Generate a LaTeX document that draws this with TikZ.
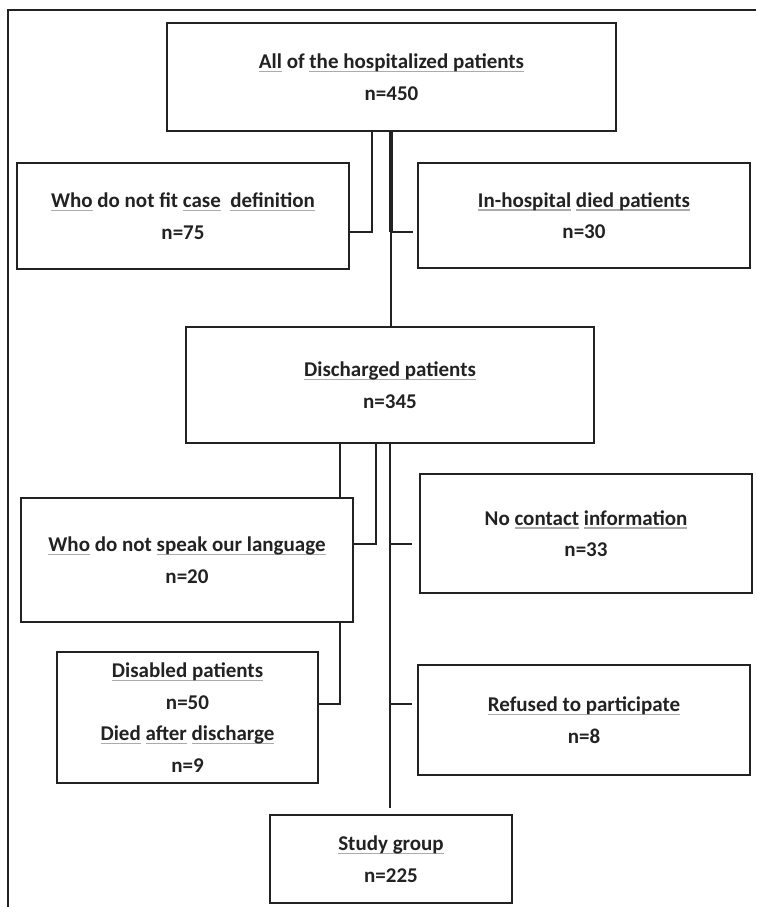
\documentclass[tikz,border=0pt]{standalone}
\usepackage{fontspec}
\setmainfont{Carlito}
\usetikzlibrary{calc}
\definecolor{ink}{HTML}{222222}
\definecolor{ulgray}{HTML}{ABABAB}
\newcommand\gul[1]{\setbox0\hbox{#1}\leavevmode\rlap{\textcolor{ulgray}{\rule[-3.6pt]{\wd0}{1.5pt}}}\box0\relax}
\begin{document}
\begin{tikzpicture}[x=1pt,y=-1pt,
  box/.style={draw=ink, line width=1.8pt, rectangle, align=center,
    font=\bfseries\fontsize{21}{31.5}\selectfont, text=ink, inner sep=0pt},
  conn/.style={draw=ink, line width=1.4pt},
  thickconn/.style={draw=ink, line width=3.4pt},
  frame/.style={draw=ink, line width=1.5pt}]
\useasboundingbox (0,0) rectangle (756,907);
\draw[frame] (8,907) -- (8,10) -- (756,10);

\node[box, minimum width=449pt, minimum height=108pt] (top) at (391.5,77)
  {\gul{All} of \gul{the hospitalized patients}\\n=450};
\node[box, minimum width=332pt, minimum height=106pt] (left1) at (183,216)
  {\gul{Who} do not fit \gul{case}\ \ \gul{definition}\\n=75};
\node[box, minimum width=332pt, minimum height=105pt] (right1) at (584,215.5)
  {\gul{In-hospital} \gul{died patients}\\n=30};
\node[box, minimum width=408pt, minimum height=116pt] (disc) at (390,385)
  {\gul{Discharged patients}\\n=345};
\node[box, minimum width=332pt, minimum height=124pt] (left2) at (187,560)
  {\gul{Who} do not \gul{speak our language}\\n=20};
\node[box, minimum width=332pt, minimum height=119pt] (right2) at (586,533.5)
  {No \gul{contact} \gul{information}\\n=33};
\node[box, minimum width=261pt, minimum height=131pt] (dis) at (187.5,717.5)
  {\gul{Disabled patients}\\n=50\\\gul{Died} \gul{after} \gul{discharge}\\n=9};
\node[box, minimum width=332pt, minimum height=110pt] (right3) at (584,720)
  {\gul{Refused to participate}\\n=8};
\node[box, minimum width=242pt, minimum height=88pt] (study) at (391,859)
  {\gul{Study group}\\n=225};

% connectors from the top box
\coordinate (j1) at (372,232);
\draw[conn] (top.south -| j1) -- (j1) -- (left1.east |- j1);
\coordinate (j2) at (391,232);
\coordinate (e2) at (413,232);
\draw[thickconn] (top.south -| j2) -- (j2);
\draw[conn] (j2) -- (e2);
\draw[conn] (j2) -- (disc.north -| j2);

% connectors from the discharged box
\coordinate (a1) at (340,470);
\draw[conn] (disc.south -| a1) -- (left2.north -| a1);
\coordinate (j3) at (340,704);
\draw[conn] (left2.south -| j3) -- (j3) -- (dis.east |- j3);
\coordinate (j4) at (376,544);
\draw[conn] (disc.south -| j4) -- (j4) -- (left2.east |- j4);
\coordinate (m) at (390,808);
\draw[conn] (disc.south -| m) -- (m);
\coordinate (b1) at (390,544);
\coordinate (e3) at (412,544);
\draw[conn] (b1) -- (e3);
\coordinate (b2) at (390,704);
\coordinate (e4) at (412,704);
\draw[conn] (b2) -- (e4);
\end{tikzpicture}
\end{document}
